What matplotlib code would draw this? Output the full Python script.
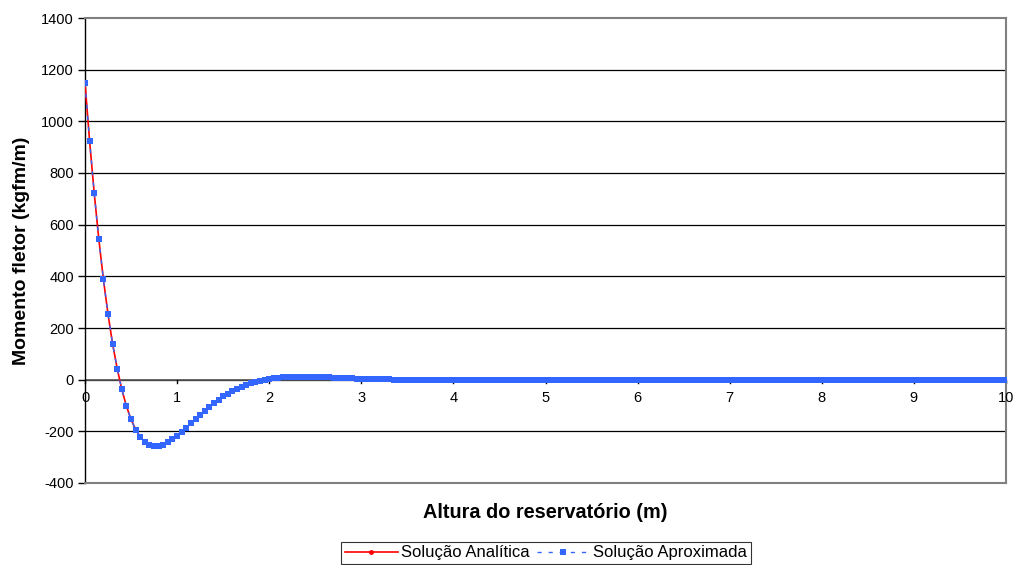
import matplotlib
matplotlib.use("Agg")
import matplotlib.pyplot as plt

plt.rcParams['font.family'] = ['Liberation Sans', 'DejaVu Sans']
plt.rcParams['axes.unicode_minus'] = False

# altura (m), passo de 0.05 m
altura = [round(0.05 * i, 2) for i in range(201)]

# momento fletor (kgfm/m)
momento_analitico = [
    1150, 924, 722, 544, 388, 253, 138, 42, -38, -103,
    -154, -193, -221, -240, -252, -257, -256, -251, -242, -230,
    -217, -202, -186, -169, -153, -136, -121, -105, -91, -78,
    -65, -54, -44, -35, -27, -19, -13, -8, -4, 0,
    3, 5.6, 7.7, 9.0, 10.1, 10.7, 11.1, 11.1, 10.9, 10.6,
    10.2, 9.8, 9.3, 8.5, 7.6, 7.0, 6.3, 5.6, 4.8, 4.2,
    3.6, 3.1, 2.6, 2.1, 1.7, 1.3, 0.9, 0.6, 0.4, 0.2,
    0.05,
] + [0.0] * 130

momento_aproximado = list(momento_analitico)

yticks = [-400, -200, 0, 200, 400, 600, 800, 1000, 1200, 1400]
xticks = [0, 1, 2, 3, 4, 5, 6, 7, 8, 9, 10]

fig = plt.figure(figsize=(10.16, 5.65), dpi=100)
ax = fig.add_axes([85 / 1016, 1 - 483 / 565, 921 / 1016, 465 / 565])

# gridlines
for v in yticks[1:-1]:
    ax.axhline(v, color='black', lw=0.9, zorder=1)

ax.plot(altura, momento_analitico, color='red', lw=1.2, marker='o',
        markersize=2.5, label='Solução Analítica', zorder=3)
ax.plot(altura, momento_aproximado, color='#3366ff', lw=1.0, ls=(0, (3, 5)),
        marker='s', markersize=4.5, markeredgewidth=0,
        label='Solução Aproximada', zorder=4)

ax.set_xlim(0, 10)
ax.set_ylim(-400, 1400)
ax.set_yticks(yticks)
ax.set_xticks(xticks)

ax.spines['left'].set_color('black')
ax.spines['left'].set_linewidth(1.0)
for s in ['top', 'right', 'bottom']:
    ax.spines[s].set_color('#808080')
    ax.spines[s].set_linewidth(1.5)

ax.tick_params(axis='y', direction='out', length=5, width=1, labelsize=10.5, pad=3)
ax.tick_params(axis='x', length=0, labelbottom=False)

# x axis crosses at y = 0 (Excel style)
ax.axhline(0, color='#555555', lw=1.2, zorder=2)
for x in xticks:
    ax.plot([x, x], [0, -14], color='black', lw=1.0, zorder=2, clip_on=False)
    ax.text(x, -42, str(x), ha='center', va='top', fontsize=10.5)

ax.set_ylabel('Momento fletor (kgfm/m)', fontsize=14, fontweight='bold', labelpad=8)
fig.text((85 + 1006) / 2 / 1016, 1 - 513 / 565, 'Altura do reservatório (m)',
         ha='center', va='center', fontsize=14.3, fontweight='bold')

leg = fig.legend(loc='center', bbox_to_anchor=(546 / 1016, 1 - 553 / 565), ncol=2,
                 frameon=True, fancybox=False, fontsize=12, handlelength=3.2,
                 handletextpad=0.2, columnspacing=0.4, borderpad=0.2,
                 borderaxespad=0)
leg.get_frame().set_edgecolor('black')
leg.get_frame().set_linewidth(0.8)

fig.savefig('out.png', dpi=100)
